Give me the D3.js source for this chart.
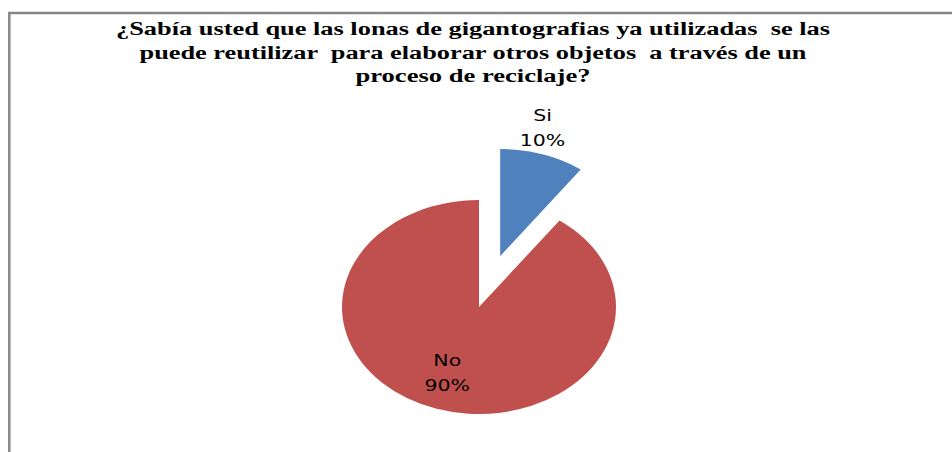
<!DOCTYPE html>
<html>
<head>
<meta charset="utf-8">
<script src="https://cdn.jsdelivr.net/npm/d3@7"></script>
<style>
  html, body { margin: 0; padding: 0; background: #fff; }
  svg { display: block; }
</style>
</head>
<body>
<div id="chart"></div>
<script>
const categories = ["Si", "No"];
const values = [10, 90];
const percentLabels = ["10%", "90%"];
const colors = ["#4F81BD", "#C0504D"];
const titleLines = [
  "¿Sabía usted que las lonas de gigantografias ya utilizadas  se las",
  "puede reutilizar  para elaborar otros objetos  a través de un",
  "proceso de reciclaje?"
];

const WIDTH = 952, HEIGHT = 452;
const CX = 479, CY = 307, RX = 137, RY = 107;
const EXPLODE = [0.5, 0]; // fraction of radius each slice is pulled out
const SX = 1.28; // horizontal stretch of the labels

const svg = d3.select("#chart")
  .append("svg")
  .attr("width", WIDTH)
  .attr("height", HEIGHT);

// chart frame
svg.append("rect")
  .attr("x", 9.3)
  .attr("y", 13)
  .attr("width", 1000)
  .attr("height", 600)
  .attr("fill", "none")
  .attr("stroke", "#878787")
  .attr("stroke-width", 2.5);

// title
const titleWidths = [714, 667, 235];
svg.append("g")
  .selectAll("text")
  .data(titleLines)
  .enter()
  .append("text")
  .attr("x", 473)
  .attr("y", (d, i) => 35 + i * 23.5)
  .attr("text-anchor", "middle")
  .attr("textLength", (d, i) => titleWidths[i])
  .attr("lengthAdjust", "spacingAndGlyphs")
  .style("white-space", "pre")
  .style("font-family", "'Liberation Serif', 'Times New Roman', serif")
  .style("font-weight", "bold")
  .style("font-size", "18px")
  .style("fill", "#000")
  .text((d) => d);

const pie = d3.pie().sort(null).value((d) => d)(values);
const arc = d3.arc().innerRadius(0).outerRadius(RX);
const ys = RY / RX;

const offset = (d, i) => {
  const m = (d.startAngle + d.endAngle) / 2;
  return [EXPLODE[i] * RX * Math.sin(m), -EXPLODE[i] * RX * Math.cos(m)];
};

const pieG = svg.append("g")
  .attr("transform", `translate(${CX}, ${CY}) scale(1, ${ys})`);

pieG.selectAll("path")
  .data(pie)
  .enter()
  .append("path")
  .attr("transform", (d, i) => `translate(${offset(d, i)})`)
  .attr("d", arc)
  .attr("fill", (d, i) => colors[i]);

// labels: exploded slice label sits outside its end, the other inside
const outerArc = d3.arc().innerRadius(RX).outerRadius(RX);
const innerArc = d3.arc().innerRadius(RX * 0.75).outerRadius(RX * 0.75);

pie.forEach((d, i) => {
  const o = offset(d, i);
  let x, y, lines;
  if (EXPLODE[i] > 0) {
    const c = outerArc.centroid(d);
    x = CX + c[0] + o[0];
    y = CY + (c[1] + o[1]) * ys - 8;
    lines = [-25, 0];
  } else {
    const c = innerArc.centroid(d);
    x = CX + c[0];
    y = CY + c[1] * ys;
    lines = [-17, 7.7];
  }
  const t = svg.append("text")
    .attr("transform", `translate(${x}, ${y}) scale(${SX}, 1)`)
    .attr("text-anchor", "middle")
    .style("font-family", "'DejaVu Sans', sans-serif")
    .style("font-size", "16px")
    .style("fill", "#000");
  t.append("tspan").attr("x", 0).attr("y", lines[0]).text(categories[i]);
  t.append("tspan").attr("x", 0).attr("y", lines[1]).text(percentLabels[i]);
});
</script>
</body>
</html>
